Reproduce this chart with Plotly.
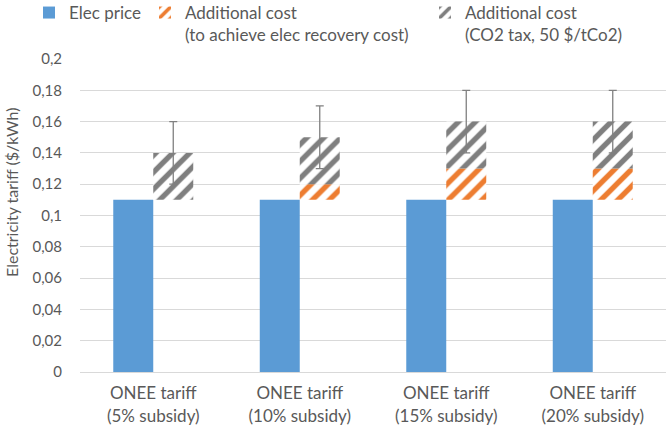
import plotly.graph_objects as go

categories = ["ONEE tariff<br>(5% subsidy)", "ONEE tariff<br>(10% subsidy)",
              "ONEE tariff<br>(15% subsidy)", "ONEE tariff<br>(20% subsidy)"]
elec_price = [0.11, 0.11, 0.11, 0.11]
add_recovery = [0.0, 0.01, 0.02, 0.02]
add_co2 = [0.03, 0.03, 0.03, 0.03]
co2_err = [0.02, 0.02, 0.02, 0.02]

base_orange = elec_price
base_gray = [a + b for a, b in zip(elec_price, add_recovery)]

txt = "#595959"
fig = go.Figure()

fig.add_trace(go.Bar(
    x=categories, y=elec_price, name="Elec price",
    offsetgroup="a", marker=dict(color="#5B9BD5", line=dict(width=0)),
    legend="legend"))

fig.add_trace(go.Bar(
    x=categories, y=add_recovery, base=base_orange,
    name="Additional cost<br>(to achieve elec recovery cost)",
    offsetgroup="b",
    marker=dict(color="white", line=dict(width=0),
                pattern=dict(shape="/", fgcolor="#ED7D31", bgcolor="white",
                             fgopacity=1, size=12, solidity=0.45)),
    legend="legend2"))

fig.add_trace(go.Bar(
    x=categories, y=add_co2, base=base_gray,
    name="Additional cost<br>(CO2 tax, 50 $/tCo2)",
    offsetgroup="b",
    marker=dict(color="white", line=dict(width=0),
                pattern=dict(shape="/", fgcolor="#7F7F7F", bgcolor="white",
                             fgopacity=1, size=12, solidity=0.45)),
    error_y=dict(type="data", array=co2_err, color="#808080",
                 thickness=1.3, width=4),
    legend="legend3"))

leg = dict(orientation="v", xref="container", yref="paper",
           yanchor="top", y=1.2045, xanchor="left",
           bgcolor="rgba(0,0,0,0)", valign="top",
           font=dict(family="Lato", size=17, color=txt))

fig.update_layout(
    width=670, height=427,
    margin=dict(l=80, r=4, t=59, b=55, autoexpand=False),
    paper_bgcolor="white", plot_bgcolor="white",
    separators=",.",
    showlegend=True,
    barmode="group", bargap=0.454, bargroupgap=0,
    font=dict(family="Lato", size=15, color=txt),
    legend=dict(leg, x=0.0433),
    legend2=dict(leg, x=0.2164),
    legend3=dict(leg, x=0.6343),
    xaxis=dict(showline=True, linecolor="#D9D9D9", linewidth=1,
               automargin=False, ticklabelstandoff=6,
               tickfont=dict(size=17, color=txt), ticks=""),
    yaxis=dict(range=[0, 0.2], dtick=0.02, showgrid=True,
               gridcolor="#D9D9D9", gridwidth=1, zeroline=False,
               automargin=False,
               tickfont=dict(size=15, color=txt), ticklabelstandoff=17),
)

fig.add_annotation(text="Electricity tariff ($/kWh)", textangle=-90,
                   xref="paper", yref="paper", x=-0.116, y=0.572,
                   xanchor="center", yanchor="middle", showarrow=False,
                   font=dict(family="Lato", size=16, color=txt))

# drop the default 8px body margin so the figure sits at the page corner
fig.write_html("out.html", config={"displayModeBar": False},
               post_script="document.body.style.margin='0';"
                           "document.body.style.overflow='hidden';")
